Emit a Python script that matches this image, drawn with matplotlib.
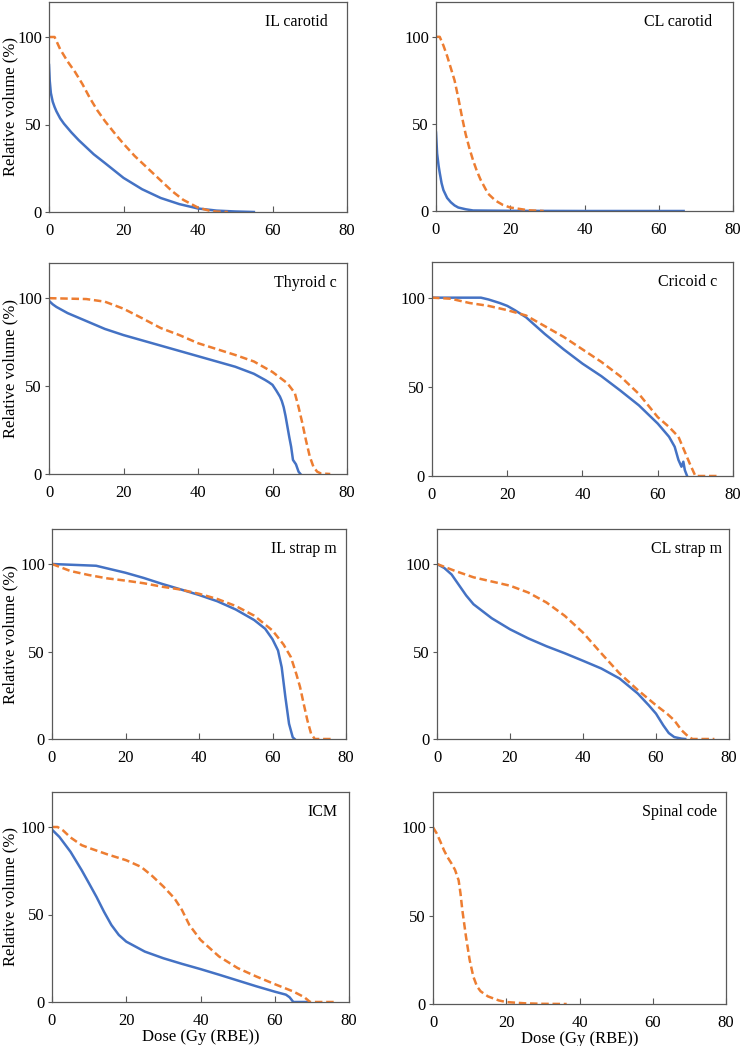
import matplotlib
matplotlib.use('Agg')
import matplotlib.pyplot as plt

plt.rcParams['font.family'] = ['Liberation Serif', 'DejaVu Serif']

# DVH data: dose (Gy (RBE)) and relative volume (%)
# blue solid = plan 1, orange dashed = plan 2
organs = ['IL carotid', 'CL carotid', 'Thyroid c', 'Cricoid c',
          'IL strap m', 'CL strap m', 'ICM', 'Spinal code']

il_carotid_blue_x = [0, 0.2, 0.5, 1, 1.5, 2, 3, 4, 5, 6, 8, 10, 12, 15, 20, 25, 30, 35, 40, 45, 50, 55]
il_carotid_blue_y = [84, 75, 68, 63, 60, 57.5, 53.5, 50.5, 48, 45.5, 41, 37, 33, 28, 19.5, 13, 8, 4.5, 2, 0.8, 0.3, 0]
il_carotid_orange_x = [0, 1.5, 3, 5, 7, 9, 11, 13, 15, 18, 20, 23, 26, 30, 33, 36, 40, 43, 45, 48]
il_carotid_orange_y = [100, 100, 93, 86, 80, 73, 65, 58, 52, 44, 39, 32, 26, 18, 12, 7, 2.5, 0.8, 0.2, 0]

cl_carotid_blue_x = [0, 0.3, 0.7, 1, 1.5, 2, 3, 4, 5, 6, 8, 10, 20, 40, 66.7]
cl_carotid_blue_y = [45, 33, 26, 22, 16, 12, 7.5, 5, 3.2, 2, 1, 0.3, 0.1, 0, 0]
cl_carotid_orange_x = [0, 1, 2, 3, 4, 5, 6, 7, 8, 9, 10, 11, 12, 14, 16, 18, 20, 25, 29]
cl_carotid_orange_y = [100, 100, 95, 89, 82, 75, 65, 54, 44, 36, 29, 23, 18, 10, 6, 3.5, 2, 0.4, 0]

thyroid_blue_x = [0, 1, 2, 5, 10, 15, 20, 30, 40, 50, 55, 58, 59, 60, 61, 62, 62.5, 63, 63.5, 64, 64.5, 65, 65.5, 66.3, 67, 67.5]
thyroid_blue_y = [98.5, 96.5, 95, 91.5, 87, 82.5, 79, 73, 67, 61, 57, 53.5, 52.2, 50.7, 47.5, 44, 41.5, 38, 33, 27, 21, 15.5, 8, 5.5, 1.3, 0]
thyroid_orange_x = [0, 10, 15, 20, 25, 30, 35, 40, 50, 55, 60, 64, 66, 67, 68, 69, 70, 71, 72, 73, 75.5]
thyroid_orange_y = [100, 99.5, 98, 94, 88.6, 83, 79, 74.4, 67.7, 64, 58, 51.6, 46, 38, 29, 19, 10, 4, 1.3, 0.3, 0]

cricoid_blue_x = [0, 13, 15, 18, 20, 22, 25, 30, 35, 40, 45, 50, 55, 60, 63, 64.5, 65.5, 66.3, 66.8, 67.2, 67.8]
cricoid_blue_y = [100, 100, 99, 97, 95.4, 93, 89, 79.6, 71, 63, 56, 48, 39.6, 29.4, 22, 16.4, 9, 5.2, 8, 3.3, 0]
cricoid_orange_x = [0, 5, 10, 15, 20, 25, 30, 35, 40, 45, 50, 55, 60, 63, 65.5, 67, 68.5, 70, 76]
cricoid_orange_y = [100, 99.4, 97, 95.4, 93, 90, 84, 78, 71, 64, 56, 46, 33, 27.5, 22, 14.5, 7, 0, 0]

il_strap_blue_x = [0, 12, 15, 20, 25, 30, 35, 40, 45, 50, 55, 58, 60, 61.5, 62.5, 63.5, 64.5, 65.5, 66]
il_strap_blue_y = [100, 99, 97.5, 95, 92, 88.6, 85.5, 82.3, 78.7, 74, 68, 63, 57, 50.6, 41, 24, 8.7, 1, 0]
il_strap_orange_x = [0, 5, 10, 15, 20, 25, 30, 35, 40, 45, 50, 55, 60, 63, 65, 66.5, 67.5, 68.5, 69.5, 70.5, 71.5, 76]
il_strap_orange_y = [100, 96, 93.7, 91.8, 90.5, 89, 87, 85.4, 83, 80, 76, 70.5, 62, 54, 46.8, 37, 29.7, 20, 10.6, 3, 0, 0]

cl_strap_blue_x = [0, 2, 4, 6, 8, 10, 15, 20, 25, 30, 35, 40, 45, 50, 55, 58, 60, 62, 63.5, 65, 67, 68]
cl_strap_blue_y = [100, 97.7, 94, 88, 82, 77, 69, 62.7, 57.5, 53, 49, 44.7, 40.3, 34.6, 26, 19.3, 14.5, 7.8, 3.4, 1.1, 0.2, 0]
cl_strap_orange_x = [0, 5, 10, 15, 20, 25, 30, 35, 40, 45, 50, 55, 60, 63, 65, 67, 69, 70, 76]
cl_strap_orange_y = [100, 96, 92.4, 90, 87.6, 83.7, 78, 70.4, 60.8, 49, 37.5, 28, 19.3, 14.5, 10.7, 5, 1.1, 0, 0]

icm_blue_x = [0, 2, 5, 8, 10, 12, 14, 16, 18, 20, 25, 30, 35, 40, 45, 50, 55, 60, 63, 64, 65, 69]
icm_blue_y = [98.5, 94.3, 85.8, 75.3, 67.7, 60, 51.6, 44, 38.3, 34.5, 28.8, 25, 21.8, 18.8, 15.6, 12.3, 9, 5.9, 4.2, 2.7, 0, 0]
icm_orange_x = [0, 1.5, 3, 5, 8, 10, 15, 20, 24, 27, 30, 33, 35, 37, 40, 45, 50, 55, 60, 65, 68, 69.5, 76]
icm_orange_y = [100, 100, 98, 94, 89.6, 88, 84.3, 81, 77.2, 72, 66, 59.2, 52.6, 44, 35.5, 26, 19.4, 14.6, 10.2, 6, 2.7, 0, 0]

spinal_orange_x = [0, 1, 2, 3, 4, 5, 6, 7, 7.5, 8, 9, 10, 11, 12, 13, 15, 18, 20, 25, 30, 36.5]
spinal_orange_y = [100, 96.6, 92, 87, 83, 79.7, 76, 70, 62.7, 53.3, 38.2, 25, 15.6, 10, 7.2, 4.3, 2, 1.1, 0.4, 0.1, 0]

blue_x = [il_carotid_blue_x, cl_carotid_blue_x, thyroid_blue_x, cricoid_blue_x,
          il_strap_blue_x, cl_strap_blue_x, icm_blue_x, None]
blue_y = [il_carotid_blue_y, cl_carotid_blue_y, thyroid_blue_y, cricoid_blue_y,
          il_strap_blue_y, cl_strap_blue_y, icm_blue_y, None]
orange_x = [il_carotid_orange_x, cl_carotid_orange_x, thyroid_orange_x, cricoid_orange_x,
            il_strap_orange_x, cl_strap_orange_x, icm_orange_x, spinal_orange_x]
orange_y = [il_carotid_orange_y, cl_carotid_orange_y, thyroid_orange_y, cricoid_orange_y,
            il_strap_orange_y, cl_strap_orange_y, icm_orange_y, spinal_orange_y]

# panel boxes in pixels: left, right, top, bottom
boxes = [(49, 347, 2, 212), (436, 733, 2, 211),
         (49, 347, 263, 474), (432, 733, 262, 476),
         (52, 346, 529, 739), (437, 729, 529, 739),
         (52, 349, 792, 1002), (433, 726, 792, 1004)]
label_x = [0.936, 0.93, 0.966, 0.947, 0.97, 0.976, 0.96, 0.969]

W, H = 741, 1046
fig = plt.figure(figsize=(W / 100, H / 100), dpi=100)

for i, name in enumerate(organs):
    l, r, t, b = boxes[i]
    ax = fig.add_axes([l / W, (H - b) / H, (r - l) / W, (b - t) / H])
    if blue_x[i] is not None:
        ax.plot(blue_x[i], blue_y[i], color='#4472C4', lw=1.8)
    ax.plot(orange_x[i], orange_y[i], color='#ED7D31', lw=1.8, ls=(0, (3, 1.5)))
    ax.set_xlim(0, 80)
    ax.set_ylim(0, 120)
    ax.set_xticks([0, 20, 40, 60, 80])
    ax.set_yticks([0, 50, 100])
    ax.tick_params(axis='x', direction='in', length=4, labelsize=12, pad=8, color='#595959')
    ax.tick_params(axis='y', direction='out', length=3, labelsize=12, pad=2, color='#595959')
    for s in ax.spines.values():
        s.set_color('#595959')
        s.set_linewidth(0.9)
    ax.text(label_x[i], 0.905, name, transform=ax.transAxes, ha='right', va='center', fontsize=11.5)
    if i % 2 == 0:
        ax.set_ylabel('Relative volume (%)', fontsize=12)
        ax.yaxis.set_label_coords((18 - l) / (r - l), 0.5)
    if i >= 6:
        ax.set_xlabel('Dose (Gy (RBE))', fontsize=12, labelpad=0)

fig.savefig('out.png', dpi=100)
